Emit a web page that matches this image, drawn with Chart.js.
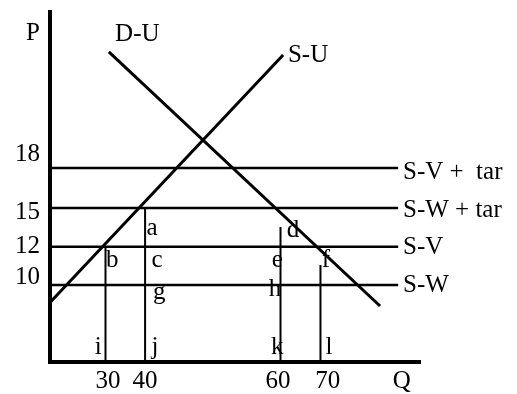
<!DOCTYPE html>
<html>
<head>
<meta charset="utf-8">
<script src="https://cdn.jsdelivr.net/npm/chart.js@4.4.1/dist/chart.umd.min.js"></script>
<style>
    html, body { margin: 0; padding: 0; background: #fff; }
    #wrap { width: 517px; height: 394px; position: relative; }
</style>
</head>
<body>
<div id="wrap"><canvas id="diagram"></canvas></div>
<script>
    // diagram units: both axes run 0..100 (schematic, not to scale)
    const priceLabels = ['18', '15', '12', '10'];
    const priceLevels = [55.4, 44.0, 32.9, 22.0];
    const priceLineEnd = 94.1;
    const priceLineNames = ['S-V +  tar', 'S-W + tar', 'S-V', 'S-W'];

    const qtyLabels = ['30', '40', '60', '70'];
    const qtyLevels = [15.0, 25.7, 62.3, 73.1];
    const qtyTops = [32.9, 44.0, 38.6, 27.7];

    const demandX = [15.9, 89.2];
    const demandY = [88.6, 16.0];
    const supplyX = [0, 63.0];
    const supplyY = [17.0, 87.7];

    const pointLetters = ['a', 'b', 'c', 'g', 'd', 'e', 'h', 'f', 'i', 'j', 'k', 'l'];

    // where the text sits (tick labels are a little off their lines in the original)
    const priceTickPos = [94.0, 59.4, 42.6, 32.9, 24.3];
    const priceTickText = ['P', ...priceLabels];
    const qtyTickPos = [15.7, 25.7, 61.6, 75.1, 95.1];
    const qtyTickText = [...qtyLabels, 'Q'];
    const letterPos = [
        [27.6, 38.3], [16.8, 29.1], [28.9, 29.1], [29.5, 20.0],
        [65.7, 37.7], [61.4, 29.1], [60.8, 20.6], [74.6, 29.1],
        [13.0, 4.3], [28.4, 4.3], [61.4, 4.3], [75.4, 4.3]
    ];
    const curveNames = [['D-U', 17.6, 93.7], ['S-U', 64.3, 87.7]];
    const nameX = 95.4;
    const nameY = [54.3, 43.4, 32.6, 22.0];

    const FONT = '"Liberation Serif", "Times New Roman", serif';
    const FONT_SIZE = 25;

    function lineSet(points, width) {
        return {
            data: points,
            borderColor: '#000',
            borderWidth: width,
            pointRadius: 0,
            showLine: true,
            fill: false,
            clip: false
        };
    }

    const datasets = [];
    priceLevels.forEach(level => {
        datasets.push(lineSet([{ x: 0, y: level }, { x: priceLineEnd, y: level }], 2.5));
    });
    qtyLevels.forEach((q, i) => {
        datasets.push(lineSet([{ x: q, y: qtyTops[i] }, { x: q, y: 0 }], 2));
    });
    datasets.push(lineSet(demandX.map((x, i) => ({ x, y: demandY[i] })), 3));
    datasets.push(lineSet(supplyX.map((x, i) => ({ x, y: supplyY[i] })), 3));

    const textLabels = {
        id: 'textLabels',
        afterDatasetsDraw(chart) {
            const { ctx, scales: { x, y } } = chart;
            ctx.save();
            ctx.fillStyle = '#000';
            ctx.font = `${FONT_SIZE}px ${FONT}`;
            ctx.textBaseline = 'middle';

            ctx.textAlign = 'center';
            pointLetters.forEach((letter, i) => {
                ctx.fillText(letter, x.getPixelForValue(letterPos[i][0]), y.getPixelForValue(letterPos[i][1]));
            });

            ctx.textAlign = 'left';
            priceLineNames.forEach((name, i) => {
                ctx.fillText(name, x.getPixelForValue(nameX), y.getPixelForValue(nameY[i]));
            });
            curveNames.forEach(([name, px, py]) => {
                ctx.fillText(name, x.getPixelForValue(px), y.getPixelForValue(py));
            });
            ctx.restore();
        }
    };

    new Chart(document.getElementById('diagram'), {
        type: 'scatter',
        data: { datasets },
        options: {
            responsive: true,
            maintainAspectRatio: false,
            animation: false,
            layout: { padding: { top: 12, right: 97, left: 0, bottom: 0 } },
            plugins: { legend: { display: false }, tooltip: { enabled: false } },
            scales: {
                x: {
                    type: 'linear',
                    min: 0,
                    max: 100,
                    grid: { display: false, drawTicks: false },
                    border: { display: true, color: '#000', width: 4 },
                    afterBuildTicks: axis => { axis.ticks = qtyTickPos.map(v => ({ value: v })); },
                    afterFit: axis => {
                        axis.height = 32;
                        axis.paddingLeft = 0;
                        axis.paddingRight = 0;
                    },
                    ticks: {
                        autoSkip: false,
                        maxRotation: 0,
                        padding: 4,
                        color: '#000',
                        font: { family: FONT, size: FONT_SIZE },
                        callback: (value, index) => qtyTickText[index]
                    }
                },
                y: {
                    type: 'linear',
                    min: 0,
                    max: 100,
                    grid: { display: false, drawTicks: false },
                    border: { display: true, color: '#000', width: 4 },
                    afterBuildTicks: axis => { axis.ticks = priceTickPos.map(v => ({ value: v })); },
                    afterFit: axis => {
                        axis.width = 50;
                        axis.paddingTop = 0;
                        axis.paddingBottom = 0;
                    },
                    ticks: {
                        autoSkip: false,
                        padding: 10,
                        color: '#000',
                        font: { family: FONT, size: FONT_SIZE },
                        callback: (value, index) => priceTickText[index]
                    }
                }
            }
        },
        plugins: [textLabels]
    });
</script>
</body>
</html>
